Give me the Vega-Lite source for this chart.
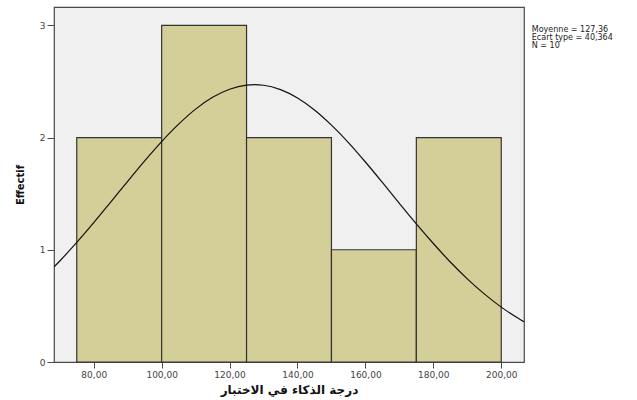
{
  "$schema": "https://vega.github.io/schema/vega-lite/v6.json",
  "width": 470,
  "height": 355,
  "autosize": {"type": "none"},
  "padding": {"left": 54, "top": 7, "right": 113, "bottom": 38},
  "background": "white",
  "config": {
    "view": {"stroke": "#4a4a4a", "strokeWidth": 1.2, "fill": "#f0f0f0"},
    "axis": {"grid": false, "domain": false, "tickColor": "#4a4a4a", "labelColor": "#444444", "labelFont": "DejaVu Sans", "labelFontSize": 9, "titleFont": "DejaVu Sans", "titleFontWeight": "bold", "titleFontSize": 10, "titleColor": "#111111"}
  },
  "datasets": {
    "bins": [
      {"start": 75, "end": 100, "count": 2},
      {"start": 100, "end": 125, "count": 3},
      {"start": 125, "end": 150, "count": 2},
      {"start": 150, "end": 175, "count": 1},
      {"start": 175, "end": 200, "count": 2}
    ],
    "curve": [
      {"x": 68.3, "y": 0.847}, {"x": 70, "y": 0.900}, {"x": 75, "y": 1.065}, {"x": 80, "y": 1.241},
      {"x": 85, "y": 1.425}, {"x": 90, "y": 1.610}, {"x": 95, "y": 1.792}, {"x": 100, "y": 1.964},
      {"x": 105, "y": 2.119}, {"x": 110, "y": 2.253}, {"x": 115, "y": 2.358}, {"x": 120, "y": 2.430},
      {"x": 125, "y": 2.467}, {"x": 127.36, "y": 2.471}, {"x": 130, "y": 2.466}, {"x": 135, "y": 2.427},
      {"x": 140, "y": 2.353}, {"x": 145, "y": 2.246}, {"x": 150, "y": 2.111}, {"x": 155, "y": 1.955},
      {"x": 160, "y": 1.782}, {"x": 165, "y": 1.600}, {"x": 170, "y": 1.414}, {"x": 175, "y": 1.231},
      {"x": 180, "y": 1.056}, {"x": 185, "y": 0.891}, {"x": 190, "y": 0.741}, {"x": 195, "y": 0.607},
      {"x": 200, "y": 0.489}, {"x": 205, "y": 0.389}, {"x": 206.7, "y": 0.358}
    ],
    "stats": [
      {"x": 209, "y": 2.99, "label": ["Moyenne = 127,36", "Ecart type = 40,364", "N = 10"]}
    ]
  },
  "layer": [
    {
      "data": {"name": "bins"},
      "mark": {"type": "bar", "fill": "#d4cf98", "stroke": "#333333", "strokeWidth": 1.2},
      "encoding": {
        "x": {"field": "start", "type": "quantitative", "scale": {"domain": [68.3, 206.7], "nice": false, "zero": false},
          "axis": {"values": [80, 100, 120, 140, 160, 180, 200], "labelExpr": "replace(format(datum.value, '.2f'), '.', ',')", "tickSize": 6, "labelPadding": 2, "title": "درجة الذكاء في الاختبار", "titleFontSize": 12, "titlePadding": 5}},
        "x2": {"field": "end"},
        "y": {"field": "count", "type": "quantitative", "scale": {"domain": [0, 3.163], "nice": false},
          "axis": {"values": [0, 1, 2, 3], "format": "d", "tickSize": 7, "labelPadding": 2, "title": "Effectif", "titlePadding": 14}},
        "y2": {"datum": 0}
      }
    },
    {
      "data": {"name": "curve"},
      "mark": {"type": "line", "interpolate": "monotone", "color": "#111111", "strokeWidth": 1.2, "clip": true},
      "encoding": {
        "x": {"field": "x", "type": "quantitative"},
        "y": {"field": "y", "type": "quantitative"}
      }
    },
    {
      "data": {"name": "stats"},
      "mark": {"type": "text", "align": "left", "baseline": "top", "font": "DejaVu Sans", "fontSize": 8, "lineHeight": 8, "color": "#222222"},
      "encoding": {
        "x": {"field": "x", "type": "quantitative"},
        "y": {"field": "y", "type": "quantitative"},
        "text": {"field": "label"}
      }
    }
  ]
}
